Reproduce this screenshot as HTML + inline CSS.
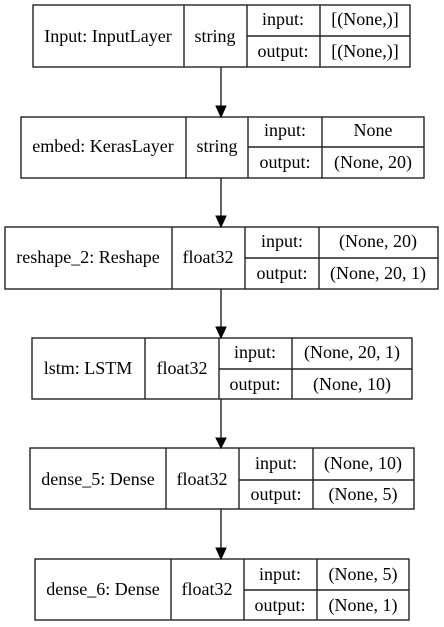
<!DOCTYPE html>
<html><head><meta charset="utf-8"><style>
html,body{margin:0;padding:0;background:#fff;}
svg{display:block;}
svg text{font-family:"Liberation Serif","Times New Roman","DejaVu Serif",serif;font-size:18px;fill:#000;}
</style></head><body>
<svg width="444" height="627" viewBox="0 0 444 627" xmlns="http://www.w3.org/2000/svg" font-family="Liberation Serif, serif" font-size="18">
<g stroke="#222" stroke-width="1.4" fill="none">
<rect x="33" y="5" width="377" height="62"/>
<line x1="184" y1="5" x2="184" y2="67"/><line x1="247" y1="5" x2="247" y2="67"/><line x1="320" y1="5" x2="320" y2="67"/><line x1="247" y1="36" x2="410" y2="36"/>
<rect x="21" y="117" width="403" height="61"/>
<line x1="186" y1="117" x2="186" y2="178"/><line x1="248" y1="117" x2="248" y2="178"/><line x1="322" y1="117" x2="322" y2="178"/><line x1="248" y1="147" x2="424" y2="147"/>
<rect x="5" y="227" width="433" height="62"/>
<line x1="172" y1="227" x2="172" y2="289"/><line x1="245" y1="227" x2="245" y2="289"/><line x1="319" y1="227" x2="319" y2="289"/><line x1="245" y1="258" x2="438" y2="258"/>
<rect x="32" y="338" width="380" height="61"/>
<line x1="145" y1="338" x2="145" y2="399"/><line x1="219" y1="338" x2="219" y2="399"/><line x1="292" y1="338" x2="292" y2="399"/><line x1="219" y1="369" x2="412" y2="369"/>
<rect x="30" y="448" width="384" height="61"/>
<line x1="166" y1="448" x2="166" y2="509"/><line x1="239" y1="448" x2="239" y2="509"/><line x1="313" y1="448" x2="313" y2="509"/><line x1="239" y1="480" x2="414" y2="480"/>
<rect x="35" y="559" width="374" height="61"/>
<line x1="171" y1="559" x2="171" y2="620"/><line x1="244" y1="559" x2="244" y2="620"/><line x1="317" y1="559" x2="317" y2="620"/><line x1="244" y1="590" x2="409" y2="590"/>
<line x1="221" y1="67" x2="221" y2="106"/>
<line x1="221" y1="178" x2="221" y2="216"/>
<line x1="221" y1="289" x2="221" y2="327"/>
<line x1="221" y1="399" x2="221" y2="438"/>
<line x1="221" y1="509" x2="221" y2="548"/>
</g>
<g fill="#000" stroke="#000" stroke-width="1">
<polygon points="216,106 226,106 221,117"/>
<polygon points="216,216 226,216 221,227"/>
<polygon points="216,327 226,327 221,338"/>
<polygon points="216,438 226,438 221,448"/>
<polygon points="216,548 226,548 221,559"/>
</g>
<g text-anchor="middle">
<text x="108" y="42">Input: InputLayer</text><text x="215" y="42">string</text>
<text x="283" y="25">input:</text><text x="365" y="25">[(None,)]</text>
<text x="283" y="57">output:</text><text x="365" y="57">[(None,)]</text>

<text x="103" y="152">embed: KerasLayer</text><text x="217" y="152">string</text>
<text x="285" y="136">input:</text><text x="373" y="136">None</text>
<text x="285" y="168">output:</text><text x="373" y="168">(None, 20)</text>

<text x="88" y="263">reshape_2: Reshape</text><text x="208" y="263">float32</text>
<text x="282" y="247">input:</text><text x="378" y="247">(None, 20)</text>
<text x="282" y="279">output:</text><text x="378" y="279">(None, 20, 1)</text>

<text x="88" y="374">lstm: LSTM</text><text x="182" y="374">float32</text>
<text x="255" y="358">input:</text><text x="352" y="358">(None, 20, 1)</text>
<text x="255" y="390">output:</text><text x="352" y="390">(None, 10)</text>

<text x="98" y="485">dense_5: Dense</text><text x="202" y="485">float32</text>
<text x="276" y="469">input:</text><text x="363" y="469">(None, 10)</text>
<text x="276" y="500">output:</text><text x="363" y="500">(None, 5)</text>

<text x="103" y="595">dense_6: Dense</text><text x="207" y="595">float32</text>
<text x="280" y="580">input:</text><text x="363" y="580">(None, 5)</text>
<text x="280" y="611">output:</text><text x="363" y="611">(None, 1)</text>
</g>
</svg>
</body></html>
